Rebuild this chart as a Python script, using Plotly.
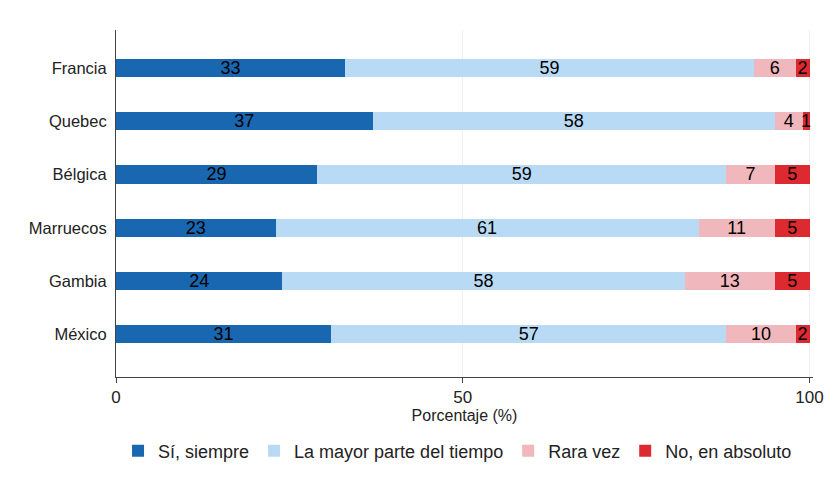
import plotly.graph_objects as go

countries = ["Francia", "Quebec", "Bélgica", "Marruecos", "Gambia", "México"]
siempre = [33, 37, 29, 23, 24, 31]
mayor_parte = [59, 58, 59, 61, 58, 57]
rara_vez = [6, 4, 7, 11, 13, 10]
no_absoluto = [2, 1, 5, 5, 5, 2]

series = [
    ("Sí, siempre", siempre, "#1a67b1"),
    ("La mayor parte del tiempo", mayor_parte, "#b9daf4"),
    ("Rara vez", rara_vez, "#f0b8bc"),
    ("No, en absoluto", no_absoluto, "#dc2a30"),
]

ypos = list(range(len(countries)))

fig = go.Figure()
for name, vals, col in series:
    fig.add_trace(go.Bar(
        x=vals, y=ypos, orientation="h", name=name,
        marker=dict(color=col, line=dict(width=0)),
        width=0.34,
        text=vals, textposition="inside", insidetextanchor="middle",
        constraintext="none", textangle=0,
        textfont=dict(color="black", size=18, family="Liberation Sans"),
    ))

# page body adds an 8px offset, so the figure is 830x472
fig.update_layout(
    barmode="stack",
    width=830, height=472,
    margin=dict(l=108, r=25, t=22, b=102),
    paper_bgcolor="white",
    plot_bgcolor="white",
    font=dict(family="Liberation Sans", size=16, color="#222"),
    showlegend=True,
    legend=dict(
        orientation="h", x=0.49, xanchor="center", y=-0.21, yanchor="middle",
        font=dict(size=18), traceorder="normal", itemwidth=30,
    ),
    xaxis=dict(
        range=[0, 100.5], tickvals=[0, 50, 100], automargin=False,
        showline=True, linecolor="#444", linewidth=1,
        ticks="outside", ticklen=5, tickcolor="#444",
        showgrid=True, gridcolor="#f0f0f0", zeroline=False,
        tickfont=dict(size=17),
        title=dict(text="Porcentaje (%)", font=dict(size=16), standoff=0),
    ),
    yaxis=dict(
        range=[5.8, -0.71], tickvals=ypos, ticktext=countries, automargin=False,
        showline=True, linecolor="#444", linewidth=1,
        ticks="", showgrid=False, zeroline=False,
        tickfont=dict(size=16.5),
        ticklabelstandoff=5,
    ),
)

fig.write_html("out.html")
